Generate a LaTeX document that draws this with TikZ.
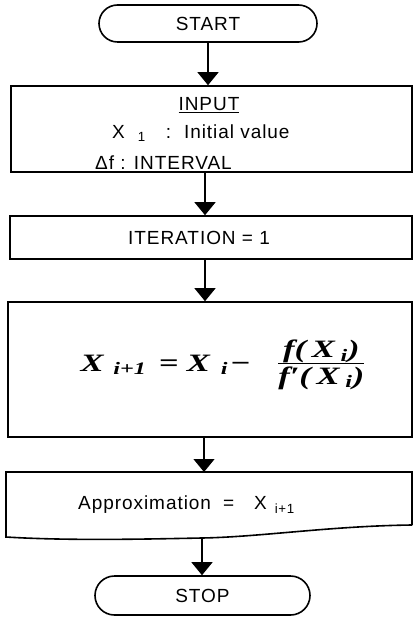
\documentclass[tikz,border=0pt]{standalone}
\usepackage{graphicx}
\usepackage{fontspec}
\setmainfont{Liberation Sans}[LetterSpace=5]
\newfontfamily\formulafont{Liberation Serif}
\newcommand{\newtonstep}{%
  \scalebox{1.38}[1]{X\hspace{7pt}\textsubscript{i+1}\hspace{9pt}=\hspace{6pt}%
    X\hspace{8pt}\textsubscript{i}\hspace{1pt}−\hspace{20pt}%
    \begin{tabular}{@{}c@{}}f(\,X\,\textsubscript{i})\\[-3pt]\hline f′(\,X\,\textsubscript{i})\end{tabular}}}
\usetikzlibrary{arrows.meta,positioning,shapes.misc}
\tikzset{
  boxline/.style={draw=black,line width=1.6pt},
  procbox/.style={boxline,rectangle,inner sep=0pt},
  termbox/.style={boxline,rounded rectangle,inner sep=0pt,
    minimum width=218pt,minimum height=37pt,font=\fontsize{19}{22}\selectfont},
  boxtext/.style={inner sep=0pt,font=\fontsize{19}{22}\selectfont},
  mathtext/.style={inner sep=0pt,font=\formulafont\bfseries\itshape\fontsize{25}{29}\selectfont},
  flow/.style={-{Triangle[width=21pt,length=13pt]},line width=1.2pt}
}

\begin{document}
\begin{tikzpicture}[x=1pt,y=-1pt]
  \useasboundingbox (0,0) rectangle (413,617);
  \coordinate (axis) at (205,0);
  % terminals
  \node[termbox] (start) at (208,23.5) {START};
  \node[termbox,minimum width=215pt,minimum height=39pt] (stop) at (202.5,595.5) {STOP};
  % process boxes
  \node[procbox,minimum width=401pt,minimum height=86pt] (input) at (211.5,129) {};
  \node[procbox,minimum width=402pt,minimum height=43pt] (iter) at (211,237.5) {};
  \node[procbox,minimum width=404pt,minimum height=135pt] (update) at (210,369.5) {};
  % texts
  \node[boxtext] (inputhead) at (209,105) {\underline{INPUT}};
  \node[boxtext,anchor=west] (inputx) at (112,133)
    {X\hspace{13pt}\textsubscript{1}\hspace{20pt}:\hspace{13pt}Initial value};
  \node[boxtext,anchor=west] (inputdf) at (95,163) {Δf : INTERVAL};
  \node[boxtext] (itertext) at (199,237.5) {ITERATION = 1};
  \node[mathtext] (newton) at (222.5,365) {\newtonstep};
  \node[boxtext,anchor=west] (approxtext) at (78,505)
    {Approximation\hspace{12pt}=\hspace{20pt}X\hspace{8pt}\textsubscript{i+1}};
  % output box with torn bottom
  \coordinate (approxtop) at (204,472);
  \coordinate (approxbot) at (202,538);
  \draw[boxline] (412,525) -- (412,472) -- (6,472) -- (6,537)
    .. controls (70,541) and (150,539) .. (approxbot)
    .. controls (260,537) and (330,526) .. (412,525);
  % connectors
  \draw[flow] (start.south -| start) -- (input.north -| start);
  \draw[flow] (input.south -| axis) -- (iter.north -| axis);
  \draw[flow] (iter.south -| axis) -- (update.north -| axis);
  \draw[flow] (update.south -| approxtop) -- (approxtop);
  \draw[flow] (approxbot) -- (stop.north -| approxbot);
\end{tikzpicture}
\end{document}
